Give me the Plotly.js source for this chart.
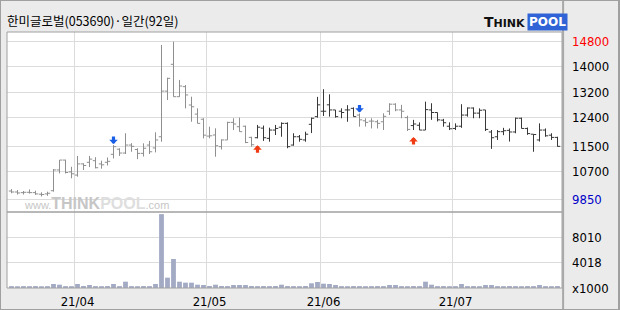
<!DOCTYPE html>
<html><head><meta charset="utf-8">
<script src="https://cdn.plot.ly/plotly-3.0.1.min.js"></script>
<style>
html,body{margin:0;padding:0;background:#ebebeb;}
#chart{width:620px;height:310px;}
#frame{position:absolute;left:0;top:0;width:620px;height:310px;box-sizing:border-box;border:1px solid #a0a0a0;border-right-width:2px;pointer-events:none;}
</style></head><body>
<div id="chart"></div><div id="frame"></div>
<script>
const dates = [
 '2021-03-17','2021-03-18','2021-03-19','2021-03-22','2021-03-23','2021-03-24','2021-03-25','2021-03-26','2021-03-29','2021-03-30','2021-03-31',
 '2021-04-01','2021-04-02','2021-04-05','2021-04-06','2021-04-07','2021-04-08','2021-04-09','2021-04-12','2021-04-13','2021-04-14','2021-04-15','2021-04-16','2021-04-19','2021-04-20','2021-04-21','2021-04-22','2021-04-23','2021-04-26','2021-04-27','2021-04-28','2021-04-29','2021-04-30',
 '2021-05-03','2021-05-04','2021-05-06','2021-05-07','2021-05-10','2021-05-11','2021-05-12','2021-05-13','2021-05-14','2021-05-17','2021-05-18','2021-05-20','2021-05-21','2021-05-24','2021-05-25','2021-05-26','2021-05-27','2021-05-28','2021-05-31',
 '2021-06-01','2021-06-02','2021-06-03','2021-06-04','2021-06-07','2021-06-08','2021-06-09','2021-06-10','2021-06-11','2021-06-14','2021-06-15','2021-06-16','2021-06-17','2021-06-18','2021-06-21','2021-06-22','2021-06-23','2021-06-24','2021-06-25','2021-06-28','2021-06-29','2021-06-30',
 '2021-07-01','2021-07-02','2021-07-05','2021-07-06','2021-07-07','2021-07-08','2021-07-09','2021-07-12','2021-07-13','2021-07-14','2021-07-15','2021-07-16','2021-07-19','2021-07-20','2021-07-21','2021-07-22','2021-07-23','2021-07-26'
];
const open = [10100,10070,10050,10060,10050,10000,10010,10110,10760,11070,
 10700,10600,10950,11000,11050,10950,11000,11250,11410,11290,
 11540,11400,11280,11540,11450,11800,13230,14070,13055,13370,
 12795,12510,12350,11820,11855,11490,11700,12250,12115,12130,
 11780,11770,12070,11750,12010,12100,12220,11540,11800,11700,
 12190,12430,12600,12800,12640,12600,12640,12690,12480,12300,
 12290,12270,12270,12600,12820,12640,12400,12150,12160,12010,
 12640,12560,12320,12130,12060,12130,12480,12700,12540,12640,
 11950,11800,11960,12000,11950,12380,12060,11880,11700,12010,
 11850,11780];
const high = [10160,10130,10100,10150,10110,10060,10080,10790,11070,11080,
 10860,11200,10970,11200,11160,11050,11150,11540,11440,11910,
 11600,11440,11595,11670,11940,14675,13650,14780,13580,13420,
 13055,12690,12380,12115,12065,11720,12270,12380,12400,12150,
 11800,12170,12150,12085,12170,12250,12250,11910,11855,11960,
 12400,13050,13290,13130,12640,12690,12790,12720,12530,12380,
 12380,12330,12535,12850,12850,12800,12460,12330,12250,12900,
 12850,12560,12360,12250,12220,12820,12720,12720,12690,12640,
 12010,12010,12080,12060,12400,12400,12090,11880,12220,12060,
 11910,11800];
const low = [10030,9990,9990,10020,9980,9930,9950,10080,10650,10650,
 10500,10550,10760,10850,10810,10800,10900,11120,11200,11260,
 11330,11100,11180,11260,11310,11645,12950,13055,13050,12690,
 12270,12220,11750,11750,11175,11400,11700,12010,11960,11600,
 11490,11750,11670,11645,11855,11800,11440,11520,11645,11645,
 11915,12400,12450,12430,12400,12380,12270,12430,12115,12120,
 12060,12060,12010,12480,12600,12380,11980,12010,12010,12010,
 12330,12280,12115,12010,12010,12080,12430,12380,12380,11980,
 11420,11700,11850,11650,11910,12060,11860,11330,11650,11800,
 11700,11490];
const close = [10070,10040,10060,10050,10010,9990,10030,10760,11070,10680,
 10640,10950,10900,11100,10830,10920,11030,11490,11290,11540,
 11500,11280,11440,11330,11700,13230,13630,13055,13390,13110,
 12740,12220,11850,11830,11520,11700,12250,12200,11960,11620,
 11550,12100,11770,12010,12060,12220,11490,11800,11720,11880,
 12380,12800,12600,12640,12430,12560,12640,12430,12330,12250,
 12290,12220,12440,12820,12640,12600,12030,12200,12010,12650,
 12560,12330,12240,12050,12130,12480,12700,12540,12630,12030,
 11770,11960,11990,11950,12380,12060,11900,11870,12010,11830,
 11780,11500];
// volume in thousands of shares
const volume = [300,280,300,290,310,280,300,640,530,300,
 290,640,320,480,300,290,310,640,300,1010,
 300,290,310,300,640,11800,1650,4630,1010,850,
 850,530,480,320,530,320,310,480,480,480,
 320,300,310,300,320,530,310,300,290,320,
 750,960,690,640,480,300,290,310,300,290,
 300,310,300,480,480,300,290,310,300,1010,
 530,300,310,290,300,640,300,310,290,480,
 480,300,290,310,300,290,310,300,480,300,
 290,310];
const monthTicks = ['2021-04-01','2021-05-03','2021-06-01','2021-07-01'];
const monthLabels = ['21/04','21/05','21/06','21/07'];
const priceTicks = [9850,10700,11500,12400,13200,14000,14800];
const volumeTicks = [0,4018,8010];
const volumeTickLabels = ['x1000','4018','8010'];
const buySignals = ['2021-05-14','2021-06-22'];
const sellSignals = ['2021-04-09','2021-06-09'];
const chartTitle = '한미글로벌(053690)·일간(92일)';

const GRAY = '#8f8f8f', DARK = '#383838', GRID = '#dcdcdc', FRAME = '#a0a0a0';
const NUMFONT = 'Liberation Sans Narrow, DejaVu Sans Condensed, Liberation Sans, sans-serif';

let st = 'gray';
const state = dates.map(d => { if (buySignals.includes(d)) st = 'dark'; if (sellSignals.includes(d)) st = 'gray'; return st; });

function ohlcTrace(which, color) {
  const idx = dates.map((d, i) => i).filter(i => state[i] === which);
  return {
    type: 'ohlc', x: idx.map(i => dates[i]),
    open: idx.map(i => open[i]), high: idx.map(i => high[i]),
    low: idx.map(i => low[i]), close: idx.map(i => close[i]),
    increasing: {line: {color: color, width: 1}},
    decreasing: {line: {color: color, width: 1}},
    tickwidth: 0.45, xaxis: 'x', yaxis: 'y', hoverinfo: 'skip', showlegend: false
  };
}

const traces = [
  ohlcTrace('gray', GRAY),
  ohlcTrace('dark', DARK),
  {type: 'bar', x: dates, y: volume, xaxis: 'x', yaxis: 'y2',
   marker: {color: '#a3aac4', line: {width: 0}}, hoverinfo: 'skip', showlegend: false}
];

const priceText = priceTicks.map(v => {
  if (v === Math.max(...priceTicks)) return '<span style="color:#ff0000">' + v + '</span>';
  if (v === Math.min(...priceTicks)) return '<span style="color:#0000c8">' + v + '</span>';
  return String(v);
});

const volDomTop = 76 / 256;
const shapes = [];
monthTicks.forEach(m => {
  const p = dates.indexOf(m) - 0.5;
  shapes.push({type: 'line', xref: 'x', yref: 'paper', x0: p, x1: p, y0: 0, y1: 1,
    line: {color: GRID, width: 1}, layer: 'below'});
});
shapes.push({type: 'rect', xref: 'paper', yref: 'paper', x0: 0, x1: 1, y0: volDomTop, y1: 1,
  line: {color: FRAME, width: 1}, fillcolor: 'rgba(0,0,0,0)'});
shapes.push({type: 'rect', xref: 'paper', yref: 'paper', x0: 0, x1: 1, y0: 0, y1: volDomTop,
  line: {color: FRAME, width: 1}, fillcolor: 'rgba(0,0,0,0)'});
shapes.push({type: 'line', xref: 'paper', yref: 'paper', x0: 1.002, x1: 1.002, y0: -0.09, y1: 1.13,
  line: {color: '#a8a8a8', width: 2}});

const annotations = [];
sellSignals.forEach(d => {
  const i = dates.indexOf(d);
  annotations.push({x: d, y: high[i], xref: 'x', yref: 'y', text: '', showarrow: true,
    ax: 0, ay: -10, arrowhead: 1, arrowsize: 0.45, arrowwidth: 3.2, arrowcolor: '#1a5fe6', standoff: 1});
});
buySignals.forEach(d => {
  const i = dates.indexOf(d);
  annotations.push({x: d, y: low[i], xref: 'x', yref: 'y', text: '', showarrow: true,
    ax: 0, ay: 16, arrowhead: 1, arrowsize: 0.45, arrowwidth: 3.2, arrowcolor: '#f03c14', standoff: 7});
});
// logo
annotations.push({xref: 'paper', yref: 'paper', x: (527 - 7) / 555, y: (288 - 22) / 256, xanchor: 'right', yanchor: 'middle',
  text: '<b>T<span style="font-size:11px">HINK</span></b>', showarrow: false,
  font: {family: 'DejaVu Sans', size: 14, color: '#111'}});
annotations.push({xref: 'paper', yref: 'paper', x: (527 - 7) / 555, y: (288 - 22) / 256, xanchor: 'left', yanchor: 'middle',
  text: '<b>POOL</b>', showarrow: false, bgcolor: '#2f63d6', borderpad: 1,
  font: {family: 'DejaVu Sans', size: 12, color: '#ffffff'}});
// watermark
annotations.push({xref: 'paper', yref: 'paper', x: (22 - 7) / 555, y: (288 - 203) / 256, xanchor: 'left', yanchor: 'middle',
  text: '<span style="font-size:11px">www.</span><b>THINK</b><b><span style="color:#dedede">POOL</span></b><span style="font-size:11px">.com</span>',
  showarrow: false, font: {family: 'Liberation Sans', size: 16, color: '#c6c6c6'}});

const layout = {
  width: 620, height: 310,
  margin: {l: 7, r: 58, t: 32, b: 22, pad: 0},
  paper_bgcolor: '#ebebeb', plot_bgcolor: '#ffffff',
  showlegend: false,
  title: {text: chartTitle, x: 7 / 620, xanchor: 'left', xref: 'container', y: 1 - 22 / 310, yanchor: 'middle',
    font: {family: 'Noto Sans CJK KR', size: 12.5, color: '#000'}},
  xaxis: {type: 'category', categoryorder: 'array', categoryarray: dates, range: [-0.75, 91.75],
    anchor: 'y2', domain: [0, 1], showgrid: false, zeroline: false, showline: false,
    tickmode: 'array', tickvals: monthTicks, ticktext: monthLabels, ticks: '', ticklabelstandoff: 4,
    tickfont: {family: NUMFONT, size: 13, color: '#000'}, rangeslider: {visible: false}, fixedrange: true},
  yaxis: {domain: [volDomTop, 1], anchor: 'x', side: 'right', range: [9443, 15082],
    tickmode: 'array', tickvals: priceTicks, ticktext: priceText, showgrid: true, gridcolor: GRID, gridwidth: 1,
    zeroline: false, showline: false, ticks: '', ticklabelstandoff: 9,
    tickfont: {family: NUMFONT, size: 13, color: '#000'}, fixedrange: true},
  yaxis2: {domain: [0, volDomTop], anchor: 'x', side: 'right', range: [0, 12137],
    tickmode: 'array', tickvals: volumeTicks, ticktext: volumeTickLabels, showgrid: true, gridcolor: GRID, gridwidth: 1,
    zeroline: false, showline: false, ticks: '', ticklabelstandoff: 9,
    tickfont: {family: NUMFONT, size: 13, color: '#000'}, fixedrange: true},
  bargap: 0.2,
  shapes: shapes, annotations: annotations
};

Plotly.newPlot('chart', traces, layout, {displayModeBar: false, staticPlot: true});
</script>
</body></html>
